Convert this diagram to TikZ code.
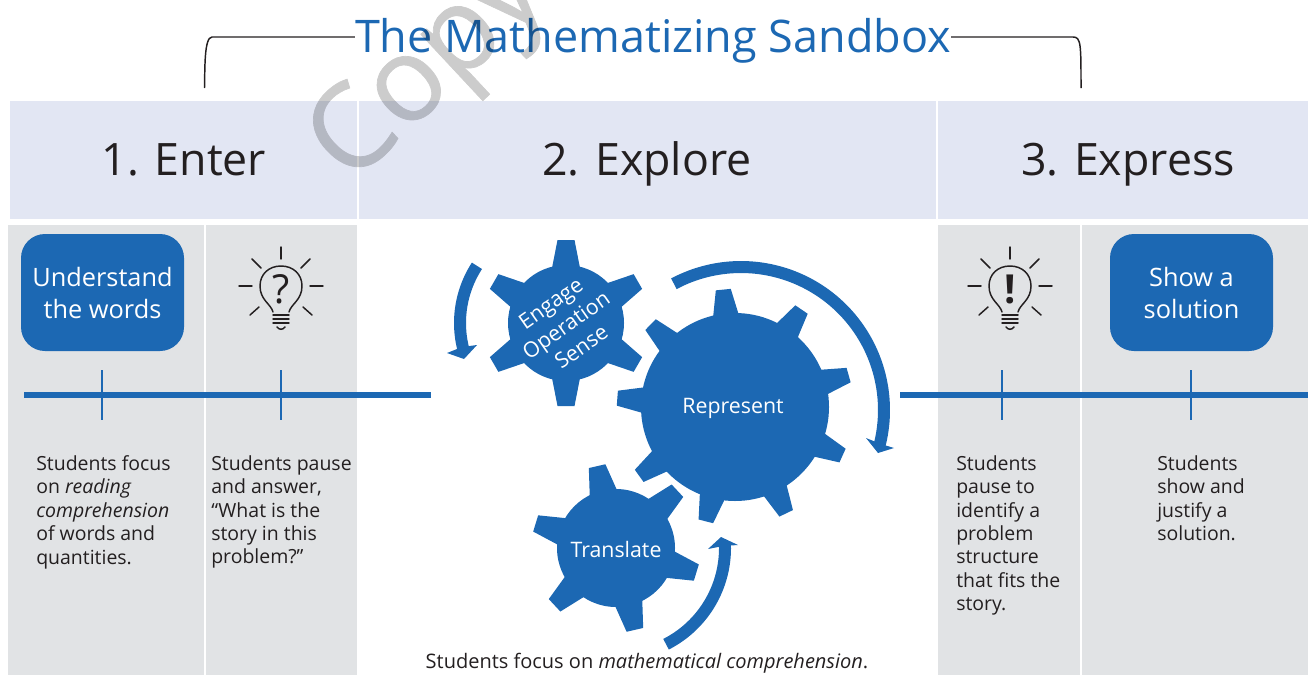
\documentclass[tikz,border=0pt]{standalone}
\usepackage{fontspec}
\setmainfont{Open Sans}
\definecolor{sandblue}{HTML}{1C68B3}
\definecolor{bandblue}{HTML}{E2E6F3}
\definecolor{panelgray}{HTML}{E1E3E5}
\definecolor{inkdark}{HTML}{231F20}
\tikzset{
  band/.style={fill=bandblue,draw=none},
  panel/.style={fill=panelgray,draw=none},
  headtext/.style={text=inkdark,font=\fontsize{33.5}{40}\selectfont,inner sep=0pt,anchor=base},
  bodytext/.style={text=inkdark,font=\fontsize{14.6}{17.6}\selectfont,align=left,anchor=north west,inner sep=0pt},
  boxtext/.style={rounded corners=18pt,fill=sandblue,text=white,font=\fontsize{19}{24}\selectfont,align=center,minimum width=122.25pt,minimum height=87.75pt,inner sep=0pt},
  geartext/.style={text=white,font=\fontsize{16}{20}\selectfont,align=center,inner sep=0pt},
  rail/.style={draw=sandblue,line width=4.5pt},
  tickline/.style={draw=sandblue,line width=1.1pt},
  spinline/.style={draw=sandblue,line width=9pt,smooth,variable=\x,samples=40},
  bulbline/.style={draw=inkdark,line width=1.1pt,line cap=round},
}
% cx cy body-radius outer-radius teeth phase base-halfwidth tip-halfwidth
\newcommand{\gear}[8]{
  \fill[sandblue] (#1,#2) circle[radius=#3];
  \foreach \k in {1,...,#5}
    \fill[sandblue,shift={(#1,#2)},rotate=#6+\k*360/#5] (#3-3,-#7) -- (#4,-#8) -- (#4,#8) -- (#3-3,#7) -- cycle;
}
% cx cy name symbol
\newcommand{\bulb}[4]{
  \begin{scope}[shift={(#1,#2)}]
    \draw[bulbline] (-8,25) .. controls (-10,17) and (-21,13) .. (-21,-1) .. controls (-21,-13) and (-12,-21) .. (0,-21)
       .. controls (12,-21) and (21,-13) .. (21,-1) .. controls (21,13) and (10,17) .. (8,25);
    \draw[bulbline] (-8,28) -- (8,28);
    \draw[bulbline] (-8,32) -- (8,32);
    \draw[bulbline] (-8,36) -- (8,36);
    \draw[bulbline] (-4,40) .. controls (-2,43) and (2,43) .. (4,40);
    \draw[bulbline] (0,-40) -- (0,-28);
    \draw[bulbline] (-42,-1) -- (-29,-1);
    \draw[bulbline] (29,-1) -- (42,-1);
    \draw[bulbline] (-29,-28) -- (-20,-19);
    \draw[bulbline] (29,-28) -- (20,-19);
    \draw[bulbline] (-31,28) -- (-22,20);
    \draw[bulbline] (31,28) -- (22,20);
    \node[text=inkdark,inner sep=0pt] (#3) at (0,2) {#4};
  \end{scope}
}

\begin{document}
\begin{tikzpicture}[x=0.75pt,y=-0.75pt]
      \useasboundingbox (0,0) rectangle (1308,675);
      \clip (0,0) rectangle (1308,675);

      % header bands
      \fill[band] (10,101) rectangle (357,219);
      \fill[band] (359,101) rectangle (936,219);
      \fill[band] (938,101) rectangle (1308,219);
      \node[headtext] (enter) at (184,175) {1. Enter};
      \node[headtext] (explore) at (647,175) {2. Explore};
      \node[headtext] (express) at (1128,175) {3. Express};

      % grey panels
      \fill[panel] (8,225) rectangle (204,675);
      \fill[panel] (206,225) rectangle (357,675);
      \fill[panel] (938,225) rectangle (1080,675);
      \fill[panel] (1082,225) rectangle (1308,675);

      % title and bracket
      \node[text=sandblue,font=\fontsize{33.7}{40}\selectfont,inner sep=0pt,anchor=base] (title) at (653,52) {The Mathematizing Sandbox};
      \coordinate (bracketL) at (204.5,88);
      \coordinate (bracketR) at (1081,88);
      \draw[inkdark,line width=1.1pt] (bracketL) .. controls (205,70) and (204,37) .. (212,37) -- (title.west |- 0,37);
      \draw[inkdark,line width=1.1pt] (title.east |- 0,37) -- (1073,37) .. controls (1081,37) and (1081,44) .. (bracketR);

      % timeline
      \coordinate (railLa) at (24,395);
      \coordinate (railLb) at (431,395);
      \coordinate (railRa) at (900,395);
      \coordinate (railRb) at (1308,395);
      \draw[rail] (railLa) -- (railLb);
      \draw[rail] (railRa) -- (railRb);
      \foreach \n/\x in {tickA/102,tickB/281,tickC/1002,tickD/1191} {
        \coordinate (\n top) at (\x,370);
        \coordinate (\n bot) at (\x,420);
        \draw[tickline] (\n top) -- (\n bot);
      }

      % boxes and bulbs
      \node[boxtext] (words) at (102.5,292.5) {Understand\\the words};
      \node[boxtext] (solution) at (1191.5,292.5) {Show a\\solution};
      \bulb{281}{287}{question}{\fontsize{30}{30}\selectfont ?}
      \bulb{1010}{287}{exclaim}{\fontsize{30}{30}\selectfont\bfseries !}

      % column texts
      \node[bodytext] (textA) at (36,455) {Students focus\\on \textit{reading}\\\textit{comprehension}\\of words and\\quantities.};
      \node[bodytext] (textB) at (211,455) {Students pause\\and answer,\\“What is the\\story in this\\problem?”};
      \node[bodytext] (textC) at (956,455) {Students\\pause to\\identify a\\problem\\structure\\that fits the\\story.};
      \node[bodytext] (textD) at (1157,455) {Students\\show and\\justify a\\solution.};
      \node[text=inkdark,font=\fontsize{15}{18}\selectfont,inner sep=0pt] (textE) at (647,663) {Students focus on \textit{mathematical comprehension}.};

      % gears
      \gear{566}{323}{58}{83}{6}{30}{14}{8.5}
      \gear{735}{407}{94}{118}{9}{95.7}{13}{7.5}
      \gear{616}{548}{59}{84}{6}{43}{14}{8.5}
      \node[geartext,rotate=35] (engage) at (566,325) {Engage\\Operation\\Sense};
      \node[geartext,anchor=base] (represent) at (733,413) {Represent};
      \node[geartext,anchor=base] (translate) at (616,557) {Translate};

      % turning arrows
      \draw[spinline,domain=147:196] plot ({565+105*cos(\x)},{323-105*sin(\x)});
      \fill[sandblue] (464,359) -- (447,353) -- (462,347) -- (477,345) -- cycle;
      \draw[spinline,domain=118:-15] plot ({741+143*cos(\x)},{410-143*sin(\x)});
      \fill[sandblue] (878,453) -- (866,438) -- (881,444) -- (894,448) -- cycle;
      \draw[spinline,domain=-63:3] plot ({617+108*cos(\x)},{548-108*sin(\x)});
      \fill[sandblue] (721,537) -- (708,549) -- (723,546) -- (738,545) -- cycle;

      % watermark
      \begin{scope}[transparency group,opacity=0.2]
        \node[text=black,font=\fontsize{88}{88}\addfontfeature{FakeBold=0.6}\selectfont,rotate=43,anchor=base west,inner sep=0pt] (copy) at (350,186) {Copy};
      \end{scope}
\end{tikzpicture}
\end{document}
